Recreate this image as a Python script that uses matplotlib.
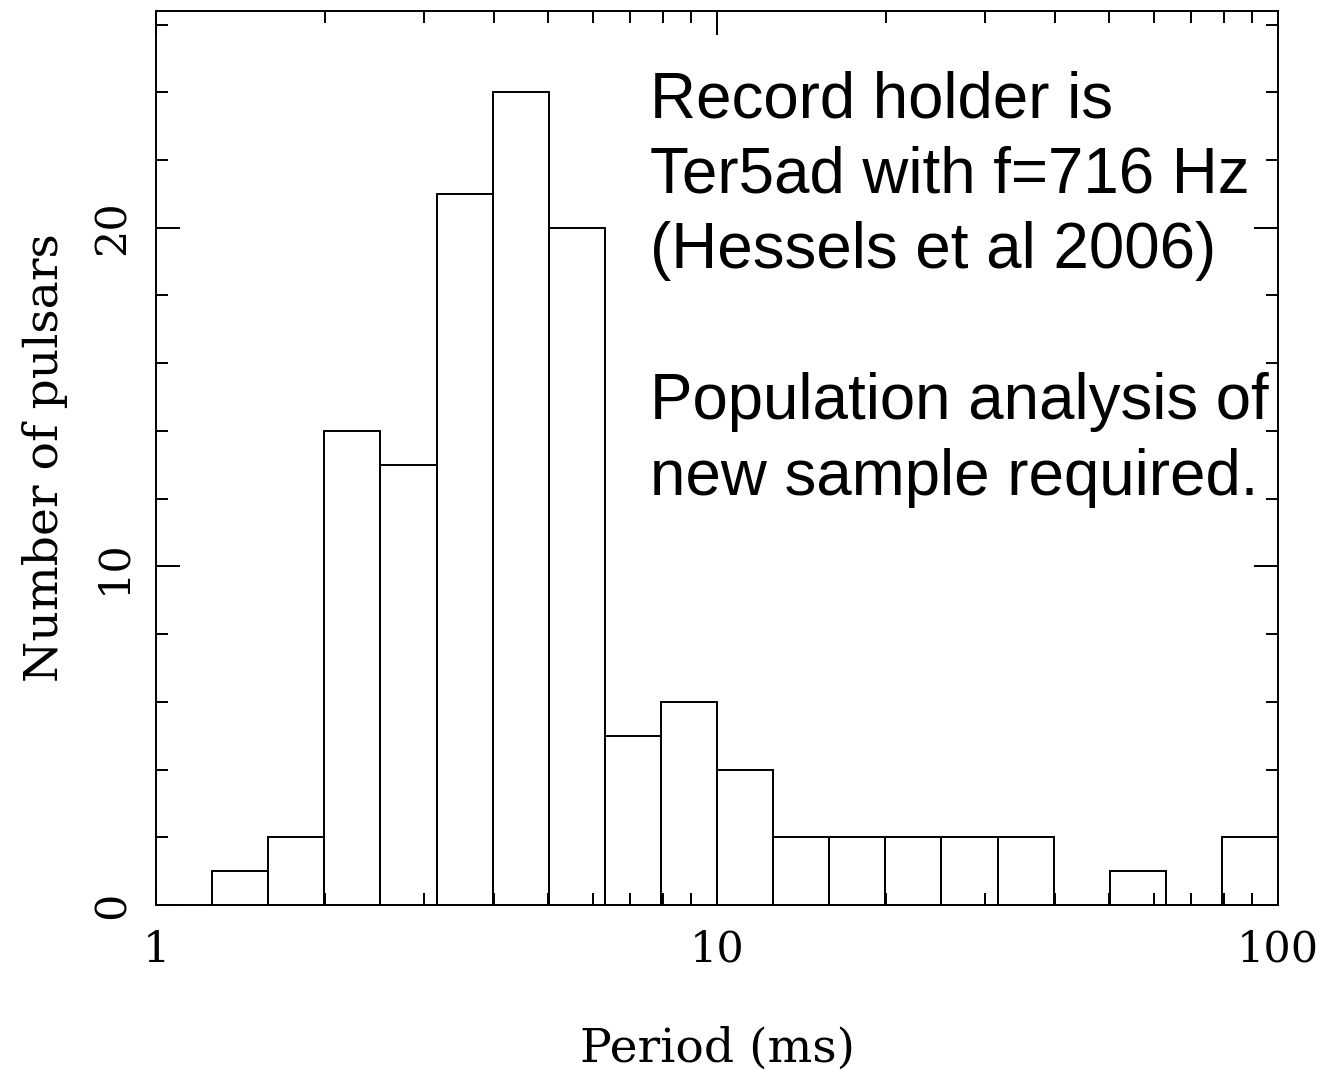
import numpy as np
import matplotlib.pyplot as plt
from matplotlib.ticker import LogLocator, NullFormatter, FixedLocator

# Histogram of pulsar periods: log10 bin edges (0.1 dex wide) and counts
log_edges = [0.1, 0.2, 0.3, 0.4, 0.5, 0.6, 0.7, 0.8, 0.9, 1.0,
             1.1, 1.2, 1.3, 1.4, 1.5, 1.6, 1.7, 1.8, 1.9, 2.0]
counts = [1, 2, 14, 13, 21, 24, 20, 5, 6, 4,
          2, 2, 2, 2, 2, 0, 1, 0, 2]

x_ticks = [1, 10, 100]
x_tick_labels = ['1', '10', '100']
y_ticks = [0, 10, 20]
y_tick_labels = ['0', '10', '20']

note_lines = ['Record holder is', 'Ter5ad with f=716 Hz', '(Hessels et al 2006)',
              '', 'Population analysis of', 'new sample required.']

edges = 10 ** np.array(log_edges)
left = edges[:-1]
widths = np.diff(edges)

W, H = 1323, 1070
fig = plt.figure(figsize=(W / 100, H / 100), dpi=100)
ax = fig.add_axes([156 / W, (H - 905) / H, 1122 / W, 894 / H])

ax.bar(left, counts, width=widths, align='edge', fill=False,
       edgecolor='black', linewidth=1.4)

ax.set_xscale('log')
ax.set_xlim(1, 100)
ax.set_ylim(0, 26.4)

ax.xaxis.set_major_locator(FixedLocator(x_ticks))
ax.set_xticklabels(x_tick_labels)
ax.xaxis.set_minor_locator(LogLocator(base=10, subs=np.arange(2, 10)))
ax.xaxis.set_minor_formatter(NullFormatter())
ax.set_yticks(y_ticks)
ax.set_yticklabels(y_tick_labels, rotation=90, va='center')
ax.yaxis.set_minor_locator(FixedLocator(np.arange(0, 27, 2)))

serif = 'DejaVu Serif'
ax.tick_params(which='both', direction='in', top=True, right=True, width=1.4)
ax.tick_params(which='major', length=17)
ax.tick_params(which='minor', length=8.5)
ax.tick_params(axis='x', which='major', pad=17, labelsize=31)
ax.tick_params(axis='y', which='major', pad=16, labelsize=31)
for lab in ax.get_xticklabels() + ax.get_yticklabels():
    lab.set_family(serif)
for s in ax.spines.values():
    s.set_linewidth(1.4)

ax.set_xlabel('Period (ms)', fontsize=34, family=serif, labelpad=40)
ax.set_ylabel('Number of pulsars', fontsize=34, family=serif, labelpad=17)

# annotation, one line at a time (baselines in pixels from the top)
for i, line in enumerate(note_lines):
    if not line:
        continue
    yb = 117 + 75.5 * i
    fig.text(650 / W, 1 - yb / H, line, fontsize=45.8,
             family='Liberation Sans', ha='left', va='baseline')

fig.savefig('out.png', dpi=100)
